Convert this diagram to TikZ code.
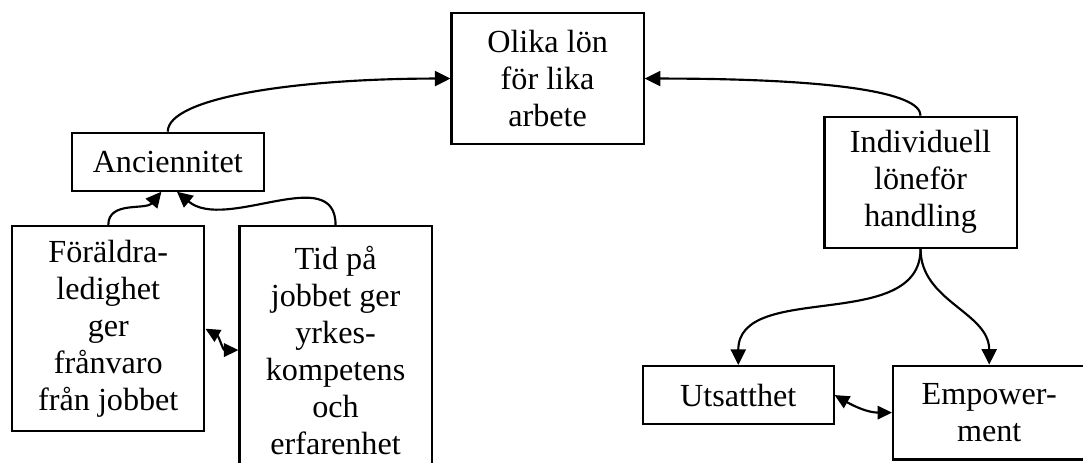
\documentclass[tikz,border=0pt]{standalone}
\usepackage{fontspec}
\setmainfont{Liberation Serif}
\usepackage{tikz}
\usetikzlibrary{arrows.meta}
\tikzset{
    ruta/.style={
        rectangle,
        draw,
        line width=0.8pt,
        align=center,
        inner sep=2pt,
        minimum width=2.52cm,
        font=\fontsize{12}{13.8}\selectfont
    },
    pil/.style={-{Triangle[length=5.8pt,width=5.6pt]}, line width=0.8pt},
    dubbelpil/.style={{Triangle[length=5.4pt,width=5pt]}-{Triangle[length=5.4pt,width=5pt]}, line width=0.8pt}
}

\begin{document}
\begin{tikzpicture}

        \useasboundingbox (0,0) rectangle (14.2,-6.06);

        \node[ruta, minimum height=1.72cm] (olika) at (7.18,-1.03)
        {Olika lön\\för lika\\arbete};

        \node[ruta, minimum height=0.76cm] (anc) at (2.20,-2.12)
        {Anciennitet};

        \node[ruta, minimum height=1.72cm] (indiv) at (12.07,-2.39)
        {Individuell\\löneför\\handling};

        \node[ruta, minimum height=2.69cm] (foraldra) at (1.42,-4.31)
        {Föräldra-\\ledighet\\ger\\frånvaro\\från jobbet};

        \node[ruta, minimum height=3.25cm] (tid) at (4.40,-4.59)
        {Tid på\\jobbet ger\\yrkes-\\kompetens\\och\\erfarenhet};

        \node[ruta, minimum width=2.5cm, minimum height=0.76cm] (utsatt) at (9.68,-5.18)
        {Utsatthet};

        \node[ruta, minimum height=1.23cm] (empow) at (12.97,-5.41)
        {Empower-\\ment};

        \draw[pil] (anc.north) to[out=90,in=180,out distance=0.45cm,in distance=2cm] (olika.west);
        \draw[pil] (indiv.north) to[out=90,in=0,out distance=0.3cm,in distance=2.5cm] (olika.east);

        \draw[pil] (foraldra.north) to[out=90,in=-130] (anc.258);
        \draw[pil] (tid.north) to[out=90,in=-40] (anc.287);

        \draw[pil] (indiv.south) to[out=-90,in=90] (utsatt.north);
        \draw[pil] (indiv.south) to[out=-90,in=90] (empow.north);

        \draw[dubbelpil] (foraldra.east) to[out=-30,in=180] (tid.west);
        \draw[dubbelpil] (utsatt.east) to[out=-30,in=180] (empow.west);

    \end{tikzpicture}
\end{document}
